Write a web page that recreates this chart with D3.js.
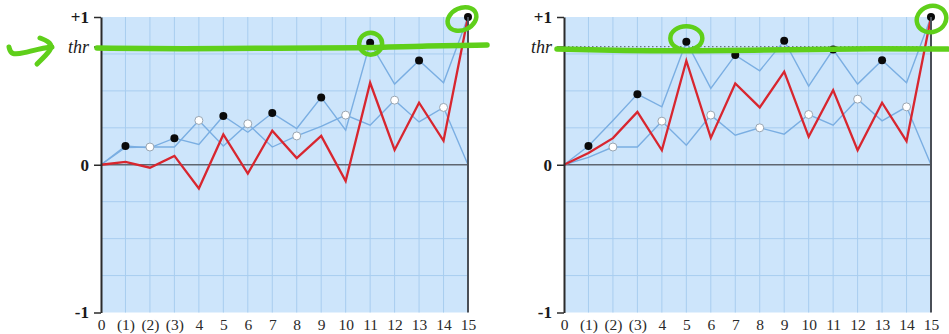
<!DOCTYPE html>
<html>
<head>
<meta charset="utf-8">
<script src="https://cdn.jsdelivr.net/npm/d3@7"></script>
<style>
  html, body { margin: 0; padding: 0; background: #fff; }
  svg { display: block; }
  svg text { font-family: "Liberation Serif", "Times New Roman", "DejaVu Serif", serif !important; }
</style>
</head>
<body>
<svg id="chart" width="949" height="334"></svg>
<script>
// Step labels along the horizontal axis
const xLabels = ["0", "(1)", "(2)", "(3)", "4", "5", "6", "7", "8", "9", "10", "11", "12", "13", "14", "15"];
const thr = 0.8;

// Left panel
const leftUpper = [0, 0.127, 0.114, 0.18, 0.137, 0.33, 0.22, 0.35, 0.245, 0.456, 0.234, 0.826, 0.546, 0.706, 0.555, 1.0];
const leftLower = [0, 0.117, 0.12, 0.12, 0.30, 0.127, 0.277, 0.12, 0.195, 0.26, 0.336, 0.268, 0.437, 0.29, 0.388, 0];
const leftDiff  = [0, 0.02, -0.02, 0.06, -0.16, 0.205, -0.06, 0.23, 0.045, 0.195, -0.11, 0.555, 0.10, 0.42, 0.162, 1.0];

// Right panel
const rightUpper = [0, 0.127, 0.30, 0.478, 0.392, 0.833, 0.517, 0.742, 0.636, 0.84, 0.532, 0.78, 0.546, 0.708, 0.555, 1.0];
const rightLower = [0, 0.05, 0.12, 0.12, 0.295, 0.132, 0.336, 0.2, 0.25, 0.207, 0.34, 0.268, 0.444, 0.297, 0.392, 0];
const rightDiff  = [0, 0.08, 0.18, 0.358, 0.098, 0.704, 0.182, 0.55, 0.388, 0.63, 0.19, 0.505, 0.098, 0.42, 0.16, 1.0];

// Highlighted points (index, value) per panel
const leftMarked = [[11, 0.826], [15, 1.0]];
const rightMarked = [[5, 0.833], [15, 1.0]];

const svg = d3.select("#chart");
const green = "#5fcf1a";

const y = d3.scaleLinear().domain([-1, 1]).range([312.5, 17]);

function panel(x0, upper, lower, diff, marked, opts) {
  const x = d3.scaleLinear().domain([0, 15]).range([x0, x0 + 367]);
  const g = svg.append("g");

  // plot background
  g.append("rect")
    .attr("x", x(0)).attr("y", y(1))
    .attr("width", x(15) - x(0)).attr("height", y(-1) - y(1))
    .attr("fill", "#cde5fb");

  // grid
  g.selectAll(".vg").data(d3.range(1, 15)).join("line")
    .attr("x1", d => x(d)).attr("x2", d => x(d))
    .attr("y1", y(1)).attr("y2", y(-1))
    .attr("stroke", "#a8cdef").attr("stroke-width", 1);
  g.selectAll(".hg").data([-0.75, -0.5, -0.25, 0.25, 0.5, 0.75]).join("line")
    .attr("x1", x(0)).attr("x2", x(15))
    .attr("y1", d => y(d)).attr("y2", d => y(d))
    .attr("stroke", "#a8cdef").attr("stroke-width", 1);

  // zero line
  g.append("line")
    .attr("x1", x(0)).attr("x2", x(15))
    .attr("y1", y(0)).attr("y2", y(0))
    .attr("stroke", "#5f6670").attr("stroke-width", 1.5);

  // threshold (dotted)
  g.append("line")
    .attr("x1", x(0)).attr("x2", x(15))
    .attr("y1", y(thr)).attr("y2", y(thr))
    .attr("stroke", "#6a7380").attr("stroke-width", 1.2)
    .attr("stroke-dasharray", "1.5,2.5");

  const line = d3.line().x((d, i) => x(i)).y(d => y(d));

  g.append("path").attr("d", line(upper))
    .attr("fill", "none").attr("stroke", "#7aaee2").attr("stroke-width", 1.4);
  g.append("path").attr("d", line(lower))
    .attr("fill", "none").attr("stroke", "#7aaee2").attr("stroke-width", 1.4);
  g.append("path").attr("d", line(diff))
    .attr("fill", "none").attr("stroke", "#d8262f").attr("stroke-width", 2.3)
    .attr("stroke-linejoin", "miter");

  // white markers on even steps of the lower series
  g.selectAll(".wd").data(d3.range(2, 15, 2)).join("circle")
    .attr("cx", i => x(i)).attr("cy", i => y(lower[i])).attr("r", 4)
    .attr("fill", "#fff").attr("stroke", "#9aa6b2").attr("stroke-width", 1);
  // black markers on odd steps of the upper series
  g.selectAll(".bd").data(d3.range(1, 16, 2)).join("circle")
    .attr("cx", i => x(i)).attr("cy", i => y(upper[i])).attr("r", 4)
    .attr("fill", "#0a0a0a");

  // axes
  const yAxis = d3.axisLeft(y)
    .tickValues([-1, 0, thr, 1])
    .tickFormat(d => d === 1 ? "+1" : d === -1 ? "-1" : d === 0 ? "0" : "thr")
    .tickSize(7).tickSizeOuter(0).tickPadding(5);
  const ya = g.append("g").attr("transform", `translate(${x(0)},0)`).call(yAxis)
    .attr("font-family", "Liberation Serif");
  ya.select(".domain").attr("stroke", "#2b2b2b").attr("stroke-width", 2);
  ya.selectAll(".tick line").attr("stroke", "#2b2b2b").attr("stroke-width", 1.5);
  ya.selectAll(".tick text")
    .attr("fill", "#1a1a1a")
    .style("font-size", d => d === thr ? "18px" : "17px")
    .style("font-weight", d => d === thr ? "normal" : "bold")
    .style("font-style", d => d === thr ? "italic" : "normal");

  // right border
  g.append("line")
    .attr("x1", x(15)).attr("x2", x(15))
    .attr("y1", y(1)).attr("y2", y(-1))
    .attr("stroke", "#4a4f57").attr("stroke-width", 2);

  const xAxis = d3.axisBottom(x)
    .tickValues(d3.range(0, 16))
    .tickFormat(i => xLabels[i])
    .tickSize(0).tickPadding(6);
  const xa = g.append("g").attr("transform", `translate(0,${y(-1)})`).call(xAxis)
    .attr("font-family", "Liberation Serif");
  xa.select(".domain").remove();
  xa.selectAll(".tick text")
    .attr("fill", "#2a2a2a")
    .style("font-size", "15.5px");

  // green hand-drawn highlights
  const hand = d3.line().curve(d3.curveBasis);
  g.append("path")
    .attr("d", hand(opts.stroke.map(([dx, dy]) => [x(0) + dx, y(thr) + dy])))
    .attr("fill", "none").attr("stroke", green).attr("stroke-width", 5.5)
    .attr("stroke-linecap", "round");

  marked.forEach(([i, v], k) => {
    const e = opts.rings[k];
    g.append("ellipse")
      .attr("cx", x(i) + e[0]).attr("cy", y(v) + e[1])
      .attr("rx", e[2]).attr("ry", e[3])
      .attr("transform", `rotate(${e[4]},${x(i) + e[0]},${y(v) + e[1]})`)
      .attr("fill", "none").attr("stroke", green).attr("stroke-width", 4.5);
  });

  return { x, g };
}

const L = panel(101, leftUpper, leftLower, leftDiff, leftMarked, {
  stroke: [[-4, 1.5], [80, 2.5], [180, 1.5], [260, 1.5], [320, -0.5], [386, -1.5]],
  rings: [[0.5, 1, 11.5, 11, 0], [-6, 2, 15, 11, -25]]
});
const R = panel(564, rightUpper, rightLower, rightDiff, rightMarked, {
  stroke: [[-7, 2.5], [60, 4], [130, 4.5], [230, 3], [310, 2], [384, 2.5]],
  rings: [[0, -3.5, 16, 12, 0], [0.5, 2, 15, 13, -20]]
});

// arrow pointing at the threshold label
const arrow = d3.line().curve(d3.curveBasis);
svg.append("path")
  .attr("d", arrow([[9, 47], [11, 55], [24, 53], [38, 49], [52, 47]]))
  .attr("fill", "none").attr("stroke", green).attr("stroke-width", 5)
  .attr("stroke-linecap", "round");
svg.append("path")
  .attr("d", arrow([[40, 38], [48, 41], [53, 47], [46, 55], [37, 64]]))
  .attr("fill", "none").attr("stroke", green).attr("stroke-width", 5)
  .attr("stroke-linecap", "round").attr("stroke-linejoin", "round");
</script>
</body>
</html>
